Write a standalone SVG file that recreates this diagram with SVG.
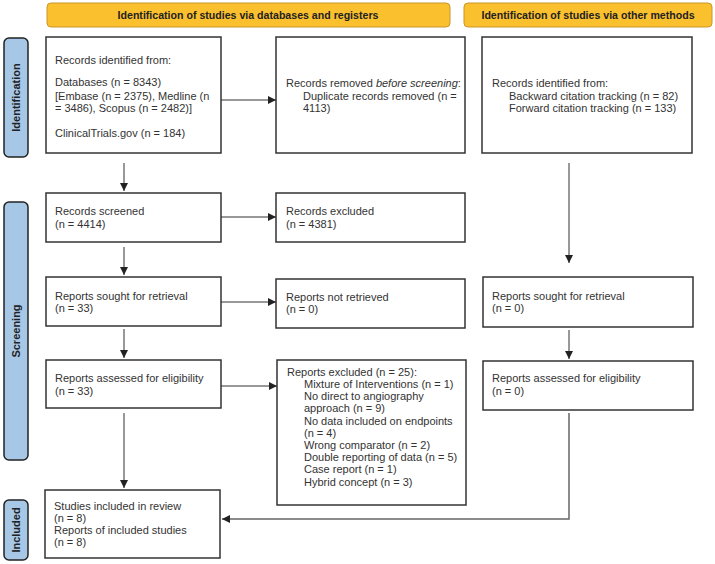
<svg xmlns="http://www.w3.org/2000/svg" width="715" height="564" viewBox="0 0 715 564">
<style>
text{font-family:"Liberation Sans",Arial,sans-serif;font-size:11px;fill:#333}
.hdr{fill:#FBC02D;stroke:#C9962A;stroke-width:1}
.hdrt{font-weight:bold;font-size:10.6px;fill:#222;text-anchor:middle}
.side{fill:#A7C7E7;stroke:#222;stroke-width:1.5}
.sidet{font-weight:bold;font-size:11px;fill:#222;text-anchor:middle}
.box{fill:#fff;stroke:#333;stroke-width:1.5}
.con{fill:none;stroke:#333;stroke-width:1}
.con2{fill:none;stroke:#666;stroke-width:1.5}
</style>
<defs>
<marker id="ah" viewBox="0 0 10 10" refX="10" refY="5" markerWidth="8" markerHeight="8" markerUnits="userSpaceOnUse" orient="auto">
<path d="M0,0 L10,5 L0,10 z" fill="#222"/>
</marker>
</defs>
<rect width="715" height="564" fill="#fff"/>
<g id="hdr1"><rect class="hdr" x="47" y="3" width="403" height="24" rx="4"/><text class="hdrt" x="248" y="19">Identification of studies via databases and registers</text></g>
<g id="hdr2"><rect class="hdr" x="464" y="3" width="248" height="24" rx="4"/><text class="hdrt" x="588" y="19">Identification of studies via other methods</text></g>
<g id="side1"><rect class="side" x="4" y="38" width="24" height="119" rx="5"/><text class="sidet" transform="translate(20,97.5) rotate(-90)">Identification</text></g>
<g id="side2"><rect class="side" x="4" y="202" width="24" height="258" rx="5"/><text class="sidet" transform="translate(20,331) rotate(-90)">Screening</text></g>
<g id="side3"><rect class="side" x="4" y="500" width="24" height="60" rx="5"/><text class="sidet" transform="translate(20,530) rotate(-90)">Included</text></g>

<g id="n1"><rect class="box" x="46" y="37" width="175" height="116"/>
<text x="55" y="64">Records identified from:</text>
<text x="55" y="86">Databases (n = 8343)</text>
<text x="55" y="100">[Embase (n = 2375), Medline (n</text>
<text x="55" y="112">= 3486), Scopus (n = 2482)]</text>
<text x="55" y="137">ClinicalTrials.gov (n = 184)</text></g>
<g id="n2"><rect class="box" x="276" y="37" width="189" height="116"/>
<text x="286" y="87">Records removed <tspan font-style="italic">before screening</tspan>:</text>
<text x="303" y="100">Duplicate records removed  (n =</text>
<text x="303" y="112">4113)</text></g>
<g id="n3"><rect class="box" x="482" y="37" width="210" height="116"/>
<text x="492" y="87">Records identified from:</text>
<text x="509" y="100">Backward citation tracking (n = 82)</text>
<text x="509" y="112">Forward citation tracking (n = 133)</text></g>

<g id="n4"><rect class="box" x="46" y="193" width="175" height="49"/>
<text x="55" y="215">Records screened</text><text x="55" y="228">(n = 4414)</text></g>
<g id="n5"><rect class="box" x="276" y="193" width="189" height="49"/>
<text x="286" y="215">Records excluded</text><text x="286" y="228">(n = 4381)</text></g>

<g id="n6"><rect class="box" x="46" y="277" width="175" height="49"/>
<text x="55" y="300">Reports sought for retrieval</text><text x="55" y="312">(n = 33)</text></g>
<g id="n7"><rect class="box" x="276" y="279" width="189" height="49"/>
<text x="286" y="301">Reports not retrieved</text><text x="286" y="313">(n = 0)</text></g>
<g id="n8"><rect class="box" x="483" y="277" width="210" height="50"/>
<text x="492" y="300">Reports sought for retrieval</text><text x="492" y="312">(n = 0)</text></g>

<g id="n9"><rect class="box" x="46" y="360" width="175" height="48"/>
<text x="55" y="382">Reports assessed for eligibility</text><text x="55" y="395">(n = 33)</text></g>
<g id="n10"><rect class="box" x="277" y="360" width="189" height="145"/>
<text x="287" y="376">Reports excluded (n = 25):</text>
<text x="304" y="388">Mixture of Interventions (n = 1)</text>
<text x="304" y="400">No direct to angiography</text>
<text x="304" y="412">approach (n = 9)</text>
<text x="304" y="425">No data included on endpoints</text>
<text x="304" y="437">(n = 4)</text>
<text x="304" y="449">Wrong comparator (n = 2)</text>
<text x="304" y="461">Double reporting of data (n = 5)</text>
<text x="304" y="473">Case report (n = 1)</text>
<text x="304" y="486">Hybrid concept (n = 3)</text></g>
<g id="n11"><rect class="box" x="483" y="361" width="210" height="49"/>
<text x="492" y="382">Reports assessed for eligibility</text><text x="492" y="395">(n = 0)</text></g>

<g id="n12"><rect class="box" x="45" y="490" width="175" height="68"/>
<text x="54" y="510">Studies included in review</text>
<text x="54" y="522">(n = 8)</text>
<text x="54" y="534">Reports of included studies</text>
<text x="54" y="546">(n = 8)</text></g>

<g id="connectors">
<line class="con" x1="221" y1="100" x2="276" y2="100" marker-end="url(#ah)"/>
<line class="con" x1="124" y1="163" x2="124" y2="191" marker-end="url(#ah)"/>
<line class="con" x1="569" y1="163" x2="569" y2="263" marker-end="url(#ah)"/>
<line class="con" x1="221" y1="217" x2="276" y2="217" marker-end="url(#ah)"/>
<line class="con" x1="124" y1="247" x2="124" y2="275" marker-end="url(#ah)"/>
<line class="con" x1="221" y1="302" x2="276" y2="302" marker-end="url(#ah)"/>
<line class="con" x1="124" y1="329" x2="124" y2="358" marker-end="url(#ah)"/>
<line class="con" x1="569" y1="330" x2="569" y2="359" marker-end="url(#ah)"/>
<line class="con" x1="221" y1="386" x2="277" y2="386" marker-end="url(#ah)"/>
<line class="con" x1="124" y1="413" x2="124" y2="488" marker-end="url(#ah)"/>
<path class="con2" d="M569,413 V519 H222" marker-end="url(#ah)"/>
</g>
</svg>
